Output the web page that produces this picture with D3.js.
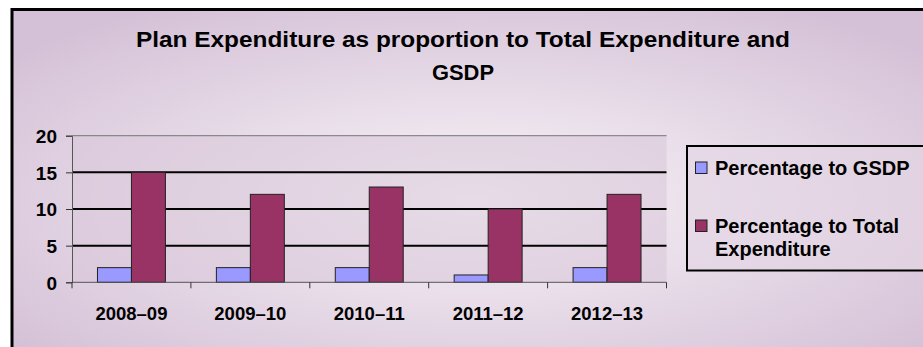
<!DOCTYPE html>
<html>
<head>
<meta charset="utf-8">
<script src="https://cdn.jsdelivr.net/npm/d3@7"></script>
<style>
  body { margin: 0; background: #fff; }
  text { font-family: "Liberation Sans", Arial, sans-serif; font-weight: bold; fill: #000; }
</style>
</head>
<body>
<div id="chart"></div>
<script>
// chart data
var years = ["2008-09", "2009-10", "2010-11", "2011-12", "2012-13"];
var pctGSDP = [2, 2, 2, 1, 2];
var pctTotalExp = [15, 12, 13, 10, 12];
var yTicks = [0, 5, 10, 15, 20];
var seriesNames = ["Percentage to GSDP", "Percentage to Total Expenditure"];
var seriesColors = ["#9999ff", "#993366"];

var W = 923, H = 347;
var margin = { top: 135.7, left: 72, right: W - 666.5, bottom: H - 282.3 };
var width = W - margin.left - margin.right,
    height = H - margin.top - margin.bottom;

var svg = d3.select("#chart").append("svg")
  .attr("width", W).attr("height", H);

// background gradient
var defs = svg.append("defs");
var grad = defs.append("radialGradient").attr("id", "bg")
  .attr("cx", "50%").attr("cy", "55%").attr("r", "65%");
grad.append("stop").attr("offset", "0%").attr("stop-color", "#f8f4f8");
grad.append("stop").attr("offset", "100%").attr("stop-color", "#d5c1d7");

svg.append("rect")
  .attr("x", 12).attr("y", 9.5).attr("width", W).attr("height", H)
  .attr("fill", "url(#bg)")
  .attr("stroke", "#000").attr("stroke-width", 3);

// title
var title = svg.append("text")
  .attr("text-anchor", "middle")
  .style("font-size", "22px");
title.append("tspan").attr("x", 463).attr("y", 47)
  .attr("textLength", 654).attr("lengthAdjust", "spacingAndGlyphs")
  .text("Plan Expenditure as proportion to Total Expenditure and");
title.append("tspan").attr("x", 463).attr("y", 80)
  .attr("textLength", 62).attr("lengthAdjust", "spacingAndGlyphs")
  .text("GSDP");

var g = svg.append("g")
  .attr("transform", "translate(" + margin.left + "," + margin.top + ")");

var x0 = d3.scaleBand().domain(years).range([0, width]);
var x1 = d3.scaleBand().domain([0, 1]).range([0, x0.bandwidth()])
  .paddingInner(0).paddingOuter(0.75);
var y = d3.scaleLinear().domain([0, 20]).range([height, 0]);

// plot area
g.append("rect")
  .attr("width", width).attr("height", height)
  .attr("fill", "#d8c6d9").attr("opacity", 0.55);

// gridlines
g.selectAll(".grid")
  .data(yTicks.filter(function(d) { return d > 0; }))
  .enter().append("line")
  .attr("x1", 0).attr("x2", width)
  .attr("y1", function(d) { return y(d); })
  .attr("y2", function(d) { return y(d); })
  .attr("stroke", function(d) { return d === 20 ? "#777" : "#000"; })
  .attr("stroke-width", function(d) { return d === 20 ? 1 : 2; });

// bars
var grp = g.selectAll(".grp")
  .data(years)
  .enter().append("g")
  .attr("transform", function(d) { return "translate(" + x0(d) + ",0)"; });

grp.selectAll("rect")
  .data(function(d, i) { return [pctGSDP[i], pctTotalExp[i]]; })
  .enter().append("rect")
  .attr("x", function(d, j) { return x1(j); })
  .attr("width", x1.bandwidth())
  .attr("y", function(d) { return y(d); })
  .attr("height", function(d) { return height - y(d); })
  .attr("fill", function(d, j) { return seriesColors[j]; })
  .attr("stroke", "#222").attr("stroke-width", 1);

// y axis
var yAxis = g.append("g")
  .call(d3.axisLeft(y).tickValues(yTicks).tickSize(6).tickPadding(9));
yAxis.select(".domain").attr("stroke", "#555");
yAxis.selectAll(".tick line").attr("stroke", "#333");
yAxis.selectAll("text").style("font-size", "19px")
  .style("font-family", "'Liberation Sans', Arial, sans-serif").style("font-weight", "bold")
  .attr("dy", "0.36em");

// x axis with ticks at band boundaries
var xAxis = g.append("g").attr("transform", "translate(0," + height + ")");
xAxis.append("line").attr("x1", 0).attr("x2", width)
  .attr("stroke", "#555").attr("stroke-width", 1);
xAxis.selectAll(".xt")
  .data(years.concat(["end"]))
  .enter().append("line")
  .attr("x1", function(d) { return d === "end" ? width : x0(d); })
  .attr("x2", function(d) { return d === "end" ? width : x0(d); })
  .attr("y1", 0).attr("y2", 6)
  .attr("stroke", "#333");
xAxis.selectAll(".xl")
  .data(years)
  .enter().append("text")
  .attr("x", function(d) { return x0(d) + x0.bandwidth() / 2; })
  .attr("y", 38)
  .attr("text-anchor", "middle")
  .style("font-size", "18.5px")
  .text(function(d) { return d.replace("-", "\u2013"); });

// legend
var leg = svg.append("g");
leg.append("rect")
  .attr("x", 687).attr("y", 146).attr("width", 260).attr("height", 124.5)
  .attr("fill", "#e4d6e5").attr("fill-opacity", 0.6)
  .attr("stroke", "#000").attr("stroke-width", 2);

var legLines = [["Percentage to GSDP"], ["Percentage to Total", "Expenditure"]];
var legY = [168, 226];
seriesNames.forEach(function(name, i) {
  leg.append("rect")
    .attr("x", 695.5).attr("y", legY[i] - 6).attr("width", 11.5).attr("height", 11.5)
    .attr("fill", seriesColors[i]).attr("stroke", "#222").attr("stroke-width", 1);
  var t = leg.append("text").style("font-size", "20px");
  legLines[i].forEach(function(line, k) {
    t.append("tspan").attr("x", 715).attr("y", legY[i] + 7 + k * 23).text(line);
  });
});
</script>
</body>
</html>
